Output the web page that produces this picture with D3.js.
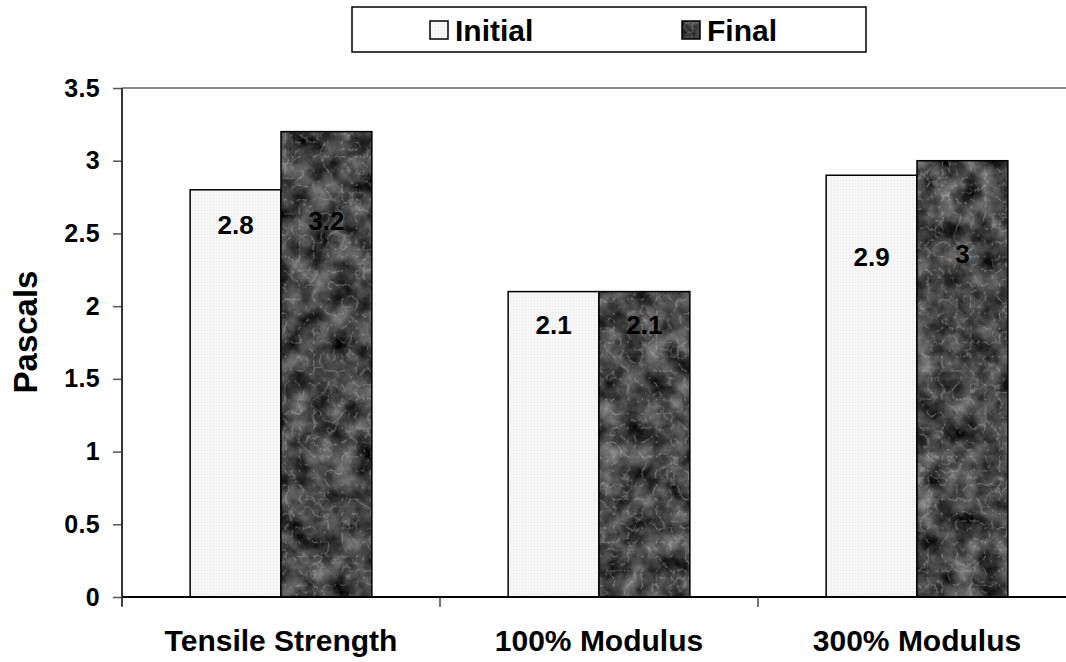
<!DOCTYPE html>
<html>
<head>
<meta charset="utf-8">
<script src="https://cdn.jsdelivr.net/npm/d3@7"></script>
<style>
  body { margin: 0; background: #fff; }
  svg { display: block; font-family: "Liberation Sans", Arial, sans-serif; font-weight: bold; }
</style>
</head>
<body>
<svg></svg>
<script>
// Chart data
const categories = ["Tensile Strength", "100% Modulus", "300% Modulus"];
const seriesNames = ["Initial", "Final"];
const initialValues = [2.8, 2.1, 2.9];
const finalValues = [3.2, 2.1, 3];
const yTicks = [0, 0.5, 1, 1.5, 2, 2.5, 3, 3.5];

const svgWidth = 1066, svgHeight = 662;
const plot = { left: 122, top: 88, bottom: 597, right: 1076 };

const svg = d3.select("svg")
    .attr("width", svgWidth)
    .attr("height", svgHeight);

// Textures: a faint dotted light fill and a dark granite fill
const defs = svg.append("defs");

const dots = defs.append("pattern")
    .attr("id", "lightDots")
    .attr("patternUnits", "userSpaceOnUse")
    .attr("width", 3).attr("height", 3);
dots.append("rect").attr("width", 3).attr("height", 3).attr("fill", "#f6f6f6");
dots.append("rect").attr("width", 1).attr("height", 1).attr("fill", "#e8e8e8");

const granite = defs.append("filter")
    .attr("id", "granite")
    .attr("x", 0).attr("y", 0).attr("width", 1).attr("height", 1)
    .attr("filterUnits", "objectBoundingBox")
    .attr("color-interpolation-filters", "sRGB");
// coarse cloudy base
granite.append("feTurbulence")
    .attr("type", "fractalNoise")
    .attr("baseFrequency", 0.045)
    .attr("numOctaves", 4)
    .attr("seed", 7)
    .attr("result", "noise");
granite.append("feColorMatrix")
    .attr("in", "noise")
    .attr("type", "matrix")
    .attr("values", "0.7 0 0 0 -0.08  0.7 0 0 0 -0.08  0.7 0 0 0 -0.08  0 0 0 0 1")
    .attr("result", "base");
// soft light veins
granite.append("feTurbulence")
    .attr("type", "turbulence")
    .attr("baseFrequency", 0.07)
    .attr("numOctaves", 3)
    .attr("seed", 3)
    .attr("result", "veinNoise");
granite.append("feColorMatrix")
    .attr("in", "veinNoise")
    .attr("type", "matrix")
    .attr("values", "0 0 0 0 0.85  0 0 0 0 0.85  0 0 0 0 0.85  -2 0 0 0 0.38")
    .attr("result", "veinsSharp");
granite.append("feGaussianBlur")
    .attr("in", "veinsSharp")
    .attr("stdDeviation", 0.5)
    .attr("result", "veins");
granite.append("feComposite")
    .attr("in", "veins")
    .attr("in2", "base")
    .attr("operator", "over")
    .attr("result", "stone");
granite.append("feComposite")
    .attr("in", "stone")
    .attr("in2", "SourceGraphic")
    .attr("operator", "in");

// Scales
const x = d3.scaleBand().domain(categories).range([plot.left, plot.right]);
const xInner = d3.scaleBand().domain(seriesNames).range([0, x.bandwidth()]).paddingOuter(0.75);
const y = d3.scaleLinear().domain([0, 3.5]).range([plot.bottom, plot.top]);

// Top border line of the plot area
svg.append("line")
    .attr("x1", plot.left).attr("x2", svgWidth)
    .attr("y1", y(3.5)).attr("y2", y(3.5))
    .attr("stroke", "#8c8c8c").attr("stroke-width", 2);

// Bars
const rows = categories.map((c, i) => ({ category: c, Initial: initialValues[i], Final: finalValues[i] }));
const bars = [];
rows.forEach(r => seriesNames.forEach(s => bars.push({ category: r.category, series: s, value: r[s] })));

function paint(sel, series) {
    if (series === "Final") sel.attr("fill", "#000").attr("filter", "url(#granite)");
    else sel.attr("fill", "url(#lightDots)");
}

const barG = svg.append("g");
bars.forEach(d => {
    const bx = x(d.category) + xInner(d.series);
    barG.append("rect")
        .attr("x", bx)
        .attr("y", y(d.value))
        .attr("width", xInner.bandwidth())
        .attr("height", y(0) - y(d.value))
        .call(paint, d.series);
    barG.append("rect")
        .attr("x", bx)
        .attr("y", y(d.value))
        .attr("width", xInner.bandwidth())
        .attr("height", y(0) - y(d.value))
        .attr("fill", "none")
        .attr("stroke", "#000")
        .attr("stroke-width", 1.5);
});

// Value labels (vertical spots where the labels sit, in axis units)
const labelLevels = [2.56, 2.59, 1.87, 1.87, 2.34, 2.36];
barG.selectAll(".val")
    .data(bars)
    .join("text")
    .attr("class", "val")
    .attr("x", d => x(d.category) + xInner(d.series) + xInner.bandwidth() / 2)
    .attr("y", (d, i) => y(labelLevels[i]))
    .attr("dy", "0.36em")
    .attr("text-anchor", "middle")
    .style("font-size", "26px")
    .style("fill", "#000")
    .text(d => d.value);

// Y axis
const yAxis = d3.axisLeft(y).tickValues(yTicks).tickSize(9).tickPadding(13).tickFormat(d3.format("~g"));
const yG = svg.append("g").attr("transform", `translate(${plot.left},0)`).call(yAxis);
yG.select(".domain").remove();
yG.append("line")
    .attr("x1", 0).attr("x2", 0)
    .attr("y1", y(3.5)).attr("y2", y(0) + 9)
    .attr("stroke", "#333").attr("stroke-width", 2);
yG.selectAll(".tick line").attr("stroke", "#555").attr("stroke-width", 1.5);
yG.selectAll(".tick text")
    .style("font-size", "25px")
    .style("letter-spacing", "0.3px")
    .style("font-family", "'Liberation Sans', Arial, sans-serif")
    .style("font-weight", "bold")
    .attr("fill", "#000");

// X axis line and category separators
svg.append("line")
    .attr("x1", plot.left).attr("x2", svgWidth)
    .attr("y1", y(0)).attr("y2", y(0))
    .attr("stroke", "#000").attr("stroke-width", 2);
svg.selectAll(".sep")
    .data(categories)
    .join("line")
    .attr("class", "sep")
    .attr("x1", d => x(d)).attr("x2", d => x(d))
    .attr("y1", y(0)).attr("y2", y(0) + 10)
    .attr("stroke", "#444").attr("stroke-width", 1.5);

svg.selectAll(".cat")
    .data(categories)
    .join("text")
    .attr("class", "cat")
    .attr("x", d => x(d) + x.bandwidth() / 2)
    .attr("y", 651)
    .attr("text-anchor", "middle")
    .style("font-size", "30px")
    .text(d => d);

// Axis title
svg.append("text")
    .attr("transform", `translate(37, 332) rotate(-90)`)
    .attr("text-anchor", "middle")
    .style("font-size", "33px")
    .text("Pascals");

// Legend
const legend = svg.append("g");
legend.append("rect")
    .attr("x", 352).attr("y", 7)
    .attr("width", 514).attr("height", 45)
    .attr("fill", "#fff")
    .attr("stroke", "#000").attr("stroke-width", 1.5);

const legendX = d3.scalePoint().domain(seriesNames).range([430, 682]);
seriesNames.forEach(s => {
    const lx = legendX(s);
    legend.append("rect")
        .attr("x", lx).attr("y", 21)
        .attr("width", 18).attr("height", 18)
        .call(paint, s);
    legend.append("rect")
        .attr("x", lx).attr("y", 21)
        .attr("width", 18).attr("height", 18)
        .attr("fill", "none").attr("stroke", "#000").attr("stroke-width", 1.5);
    legend.append("text")
        .attr("x", lx + 25)
        .attr("y", 41)
        .style("font-size", "30px")
        .text(s);
});
</script>
</body>
</html>
